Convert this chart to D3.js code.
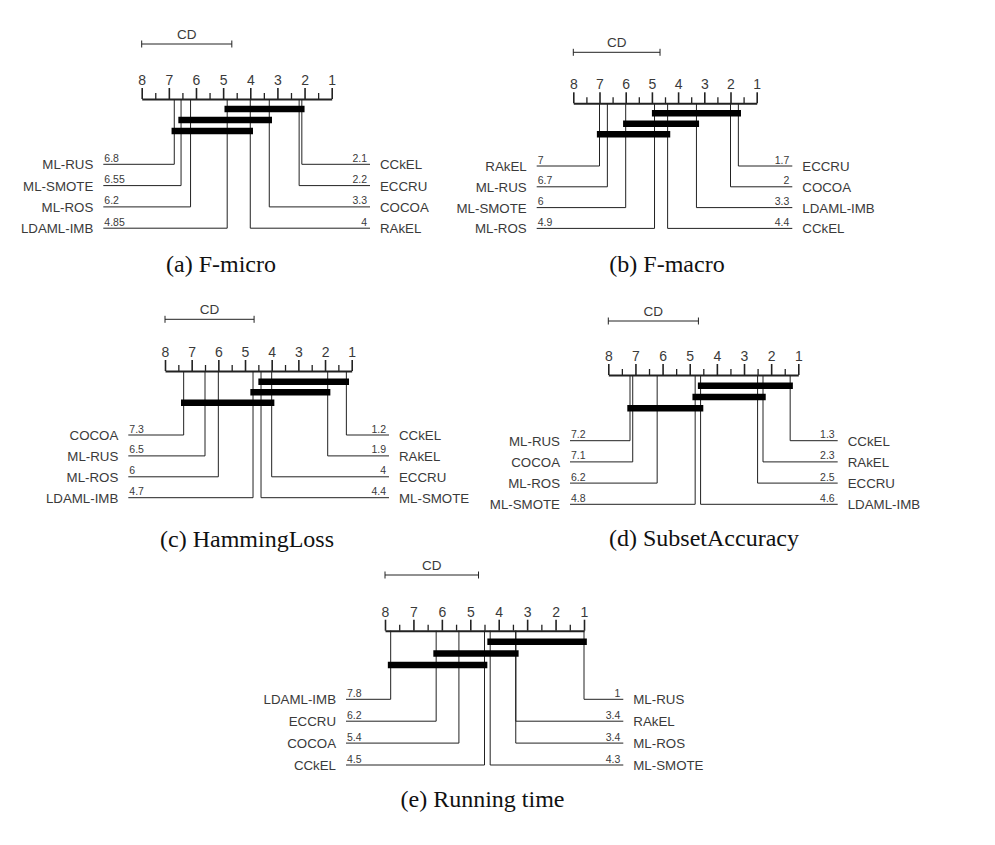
<!DOCTYPE html>
<html>
<head>
<meta charset="utf-8">
<script src="https://cdn.jsdelivr.net/npm/d3@7"></script>
<style>
  html, body { margin: 0; padding: 0; background: #fff; }
  svg { display: block; }
  .lbl { font-family: "Liberation Sans", Arial, sans-serif; fill: #3a3a3a; }
  .cap { font-family: "Liberation Serif", "Times New Roman", serif; fill: #111; }
</style>
</head>
<body>
<svg id="chart" width="995" height="845"></svg>
<script>
// ---------- DATA ----------
const captions = ["(a) F-micro", "(b) F-macro", "(c) HammingLoss", "(d) SubsetAccuracy", "(e) Running time"];
const rankTicks = [8, 7, 6, 5, 4, 3, 2, 1];
const minorTicks = [7.5, 6.5, 5.5, 4.5, 3.5, 2.5, 1.5];
const cdValues = [3.32, 3.31, 3.34, 3.32, 3.29];

const methodsA = ["ML-RUS", "ML-SMOTE", "ML-ROS", "LDAML-IMB", "CCkEL", "ECCRU", "COCOA", "RAkEL"];
const ranksA   = [6.8, 6.55, 6.2, 4.85, 2.1, 2.2, 3.3, 4];
const cliquesA = [[4.85, 2.1], [6.55, 3.3], [6.8, 4]];

const methodsB = ["RAkEL", "ML-RUS", "ML-SMOTE", "ML-ROS", "ECCRU", "COCOA", "LDAML-IMB", "CCkEL"];
const ranksB   = [7, 6.7, 6, 4.9, 1.7, 2, 3.3, 4.4];
const cliquesB = [[4.9, 1.7], [6, 3.3], [7, 4.4]];

const methodsC = ["COCOA", "ML-RUS", "ML-ROS", "LDAML-IMB", "CCkEL", "RAkEL", "ECCRU", "ML-SMOTE"];
const ranksC   = [7.3, 6.5, 6, 4.7, 1.2, 1.9, 4, 4.4];
const cliquesC = [[4.4, 1.2], [4.7, 1.9], [7.3, 4]];

const methodsD = ["ML-RUS", "COCOA", "ML-ROS", "ML-SMOTE", "CCkEL", "RAkEL", "ECCRU", "LDAML-IMB"];
const ranksD   = [7.2, 7.1, 6.2, 4.8, 1.3, 2.3, 2.5, 4.6];
const cliquesD = [[4.6, 1.3], [4.8, 2.3], [7.2, 4.6]];

const methodsE = ["LDAML-IMB", "ECCRU", "COCOA", "CCkEL", "ML-RUS", "RAkEL", "ML-ROS", "ML-SMOTE"];
const ranksE   = [7.8, 6.2, 5.4, 4.5, 1, 3.4, 3.4, 4.3];
const cliquesE = [[4.3, 1], [6.2, 3.4], [7.8, 4.5]];

// ---------- LAYOUT ----------
const layouts = [
  { x8: 141.7, x1: 331.7, axisY: 99,    cdY: 44,    barY0: 109,   barDy: 11,   rowY0: 164.3, rowDy: 21.3, lineL: 103.3, lineR: 370,   capX: 221,   capY: 272 },
  { x8: 573.3, x1: 756.7, axisY: 103.3, cdY: 52.3,  barY0: 113.3, barDy: 10.5, rowY0: 166,   rowDy: 20.8, lineL: 536.7, lineR: 792.3, capX: 667,   capY: 272 },
  { x8: 165,   x1: 351.7, axisY: 371,   cdY: 319.3, barY0: 381.7, barDy: 10.5, rowY0: 435,   rowDy: 20.9, lineL: 128.3, lineR: 389,   capX: 247,   capY: 547 },
  { x8: 608.3, x1: 798.3, axisY: 375,   cdY: 321,   barY0: 385.7, barDy: 11.3, rowY0: 440.7, rowDy: 21.2, lineL: 570,   lineR: 837.7, capX: 704,   capY: 546 },
  { x8: 385,   x1: 584,   axisY: 630.7, cdY: 575,   barY0: 641.7, barDy: 11.7, rowY0: 699.3, rowDy: 21.9, lineL: 346,   lineR: 623.3, capX: 482.5, capY: 807 }
];

const panels = [
  { methods: methodsA, ranks: ranksA, cliques: cliquesA },
  { methods: methodsB, ranks: ranksB, cliques: cliquesB },
  { methods: methodsC, ranks: ranksC, cliques: cliquesC },
  { methods: methodsD, ranks: ranksD, cliques: cliquesD },
  { methods: methodsE, ranks: ranksE, cliques: cliquesE }
];

const svg = d3.select("#chart");
const lineColor = "#222";

panels.forEach((p, pi) => {
  const L = layouts[pi];
  const x = d3.scaleLinear().domain([8, 1]).range([L.x8, L.x1]);
  const g = svg.append("g");

  // minor ticks
  const minorAxis = d3.axisTop(x).tickValues(minorTicks).tickSize(6).tickSizeOuter(0).tickFormat("");
  const gm = g.append("g").attr("transform", `translate(0,${L.axisY})`).call(minorAxis);
  gm.select(".domain").remove();
  gm.selectAll(".tick line").attr("stroke", lineColor).attr("stroke-width", 1.3);

  // major axis
  const majorAxis = d3.axisTop(x).tickValues(rankTicks).tickSize(11).tickSizeOuter(0).tickPadding(3).tickFormat(d3.format("d"));
  const ga = g.append("g").attr("transform", `translate(0,${L.axisY})`).call(majorAxis);
  ga.select(".domain").attr("stroke", lineColor).attr("stroke-width", 2);
  ga.selectAll(".tick line").attr("stroke", lineColor).attr("stroke-width", 1.6);
  ga.selectAll(".tick text").attr("class", "lbl").attr("font-size", 14).attr("fill", "#3a3a3a");

  // CD bar
  const cdX0 = x(8), cdX1 = x(8 - cdValues[pi]);
  g.append("line").attr("x1", cdX0).attr("x2", cdX1).attr("y1", L.cdY).attr("y2", L.cdY)
    .attr("stroke", lineColor).attr("stroke-width", 1);
  [cdX0, cdX1].forEach(cx => g.append("line").attr("x1", cx).attr("x2", cx)
    .attr("y1", L.cdY - 3.5).attr("y2", L.cdY + 3.5).attr("stroke", lineColor).attr("stroke-width", 1));
  g.append("text").attr("class", "lbl").attr("x", (cdX0 + cdX1) / 2).attr("y", L.cdY - 5)
    .attr("text-anchor", "middle").attr("font-size", 13.5).text("CD");

  // sort methods
  const items = p.methods.map((m, i) => ({ name: m, rank: p.ranks[i], idx: i }));
  const left = items.slice().sort((a, b) => b.rank - a.rank || a.idx - b.idx).slice(0, 4);
  const right = items.slice().sort((a, b) => a.rank - b.rank || a.idx - b.idx).slice(0, 4);

  const fmt = v => String(v);

  left.forEach((d, i) => {
    const ry = L.rowY0 + i * L.rowDy;
    g.append("path")
      .attr("d", `M${x(d.rank)},${L.axisY}V${ry}H${L.lineL}`)
      .attr("fill", "none").attr("stroke", lineColor).attr("stroke-width", 1);
    g.append("text").attr("class", "lbl").attr("x", L.lineL - 10).attr("y", ry + 5)
      .attr("text-anchor", "end").attr("font-size", 13.3).text(d.name);
    g.append("text").attr("class", "lbl").attr("x", L.lineL + 1).attr("y", ry - 2.5)
      .attr("font-size", 10.5).text(fmt(d.rank));
  });

  right.forEach((d, i) => {
    const ry = L.rowY0 + i * L.rowDy;
    g.append("path")
      .attr("d", `M${x(d.rank)},${L.axisY}V${ry}H${L.lineR}`)
      .attr("fill", "none").attr("stroke", lineColor).attr("stroke-width", 1);
    g.append("text").attr("class", "lbl").attr("x", L.lineR + 10).attr("y", ry + 5)
      .attr("text-anchor", "start").attr("font-size", 13.3).text(d.name);
    g.append("text").attr("class", "lbl").attr("x", L.lineR - 3).attr("y", ry - 2.5)
      .attr("text-anchor", "end").attr("font-size", 10.5).text(fmt(d.rank));
  });

  // clique bars
  p.cliques.forEach((c, i) => {
    const by = L.barY0 + i * L.barDy;
    g.append("line")
      .attr("x1", x(c[0] + 0.1)).attr("x2", x(c[1] - 0.1))
      .attr("y1", by).attr("y2", by)
      .attr("stroke", "#000").attr("stroke-width", 6.5);
  });

  // caption
  g.append("text").attr("class", "cap").attr("x", L.capX).attr("y", L.capY)
    .attr("text-anchor", "middle").attr("font-size", 24).text(captions[pi]);
});
</script>
</body>
</html>
